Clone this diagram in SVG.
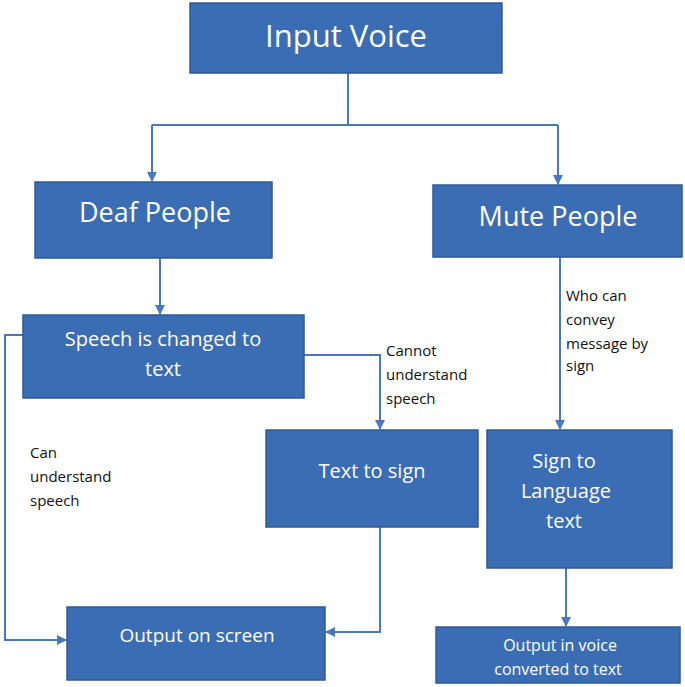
<svg xmlns="http://www.w3.org/2000/svg" width="685" height="687" viewBox="0 0 685 687">
<style>
.box{fill:#3b6db5;stroke:#2f5a96;stroke-width:1.5}
.t{fill:#fff;font-family:"Open Sans","Liberation Sans",sans-serif;text-anchor:middle}
.l{fill:#111;font-family:"Open Sans","Liberation Sans",sans-serif;font-size:15px}
.c{fill:none;stroke:#4a78bd;stroke-width:2}
</style>
<defs><marker id="a" markerWidth="10" markerHeight="10" refX="9" refY="5" orient="auto" markerUnits="userSpaceOnUse"><path d="M0,0 L10,5 L0,10 Z" fill="#4a78bd"/></marker></defs>
<rect width="685" height="687" fill="#fff"/>
<g id="connectors">
<path class="c" d="M348,73 V125 M152,125 H558"/>
<path class="c" d="M152,125 V181" marker-end="url(#a)"/>
<path class="c" d="M558,125 V184" marker-end="url(#a)"/>
<path class="c" d="M160,258 V314" marker-end="url(#a)"/>
<path class="c" d="M304,355 H380 V429" marker-end="url(#a)"/>
<path class="c" d="M560,257 V429" marker-end="url(#a)"/>
<path class="c" d="M23,335 H5 V640 H66" marker-end="url(#a)"/>
<path class="c" d="M380,527 V632 H326" marker-end="url(#a)"/>
<path class="c" d="M566,568 V626" marker-end="url(#a)"/>
</g>
<g id="input"><rect class="box" x="190" y="3" width="312" height="70"/><text class="t" x="346" y="47" font-size="31">Input Voice</text></g>
<g id="deaf"><rect class="box" x="35" y="182" width="237" height="76"/><text class="t" x="155" y="222" font-size="27">Deaf People</text></g>
<g id="mute"><rect class="box" x="433" y="185" width="249" height="72"/><text class="t" x="558" y="226" font-size="27">Mute People</text></g>
<g id="speech"><rect class="box" x="23" y="315" width="281" height="83"/><text class="t" x="163" y="346" font-size="20">Speech is changed to</text><text class="t" x="163" y="376" font-size="20">text</text></g>
<g id="textsign"><rect class="box" x="266" y="430" width="212" height="97"/><text class="t" x="372" y="478" font-size="20">Text to sign</text></g>
<g id="signlang"><rect class="box" x="487" y="430" width="185" height="138"/><text class="t" x="564" y="468" font-size="20">Sign to</text><text class="t" x="566" y="498" font-size="20">Language</text><text class="t" x="564" y="528" font-size="20">text</text></g>
<g id="screen"><rect class="box" x="67" y="607" width="258" height="73"/><text class="t" x="197" y="642" font-size="19">Output on screen</text></g>
<g id="voiceout"><rect class="box" x="436" y="627" width="244" height="56"/><text class="t" x="560" y="651" font-size="16">Output in voice</text><text class="t" x="558" y="675" font-size="16">converted to text</text></g>
<g id="labels">
<text class="l" x="386" y="356">Cannot</text><text class="l" x="386" y="380">understand</text><text class="l" x="386" y="404">speech</text>
<text class="l" x="566" y="301">Who can</text><text class="l" x="566" y="325">convey</text><text class="l" x="566" y="349">message by</text><text class="l" x="566" y="371">sign</text>
<text class="l" x="30" y="458">Can</text><text class="l" x="30" y="482">understand</text><text class="l" x="30" y="506">speech</text>
</g>
</svg>
